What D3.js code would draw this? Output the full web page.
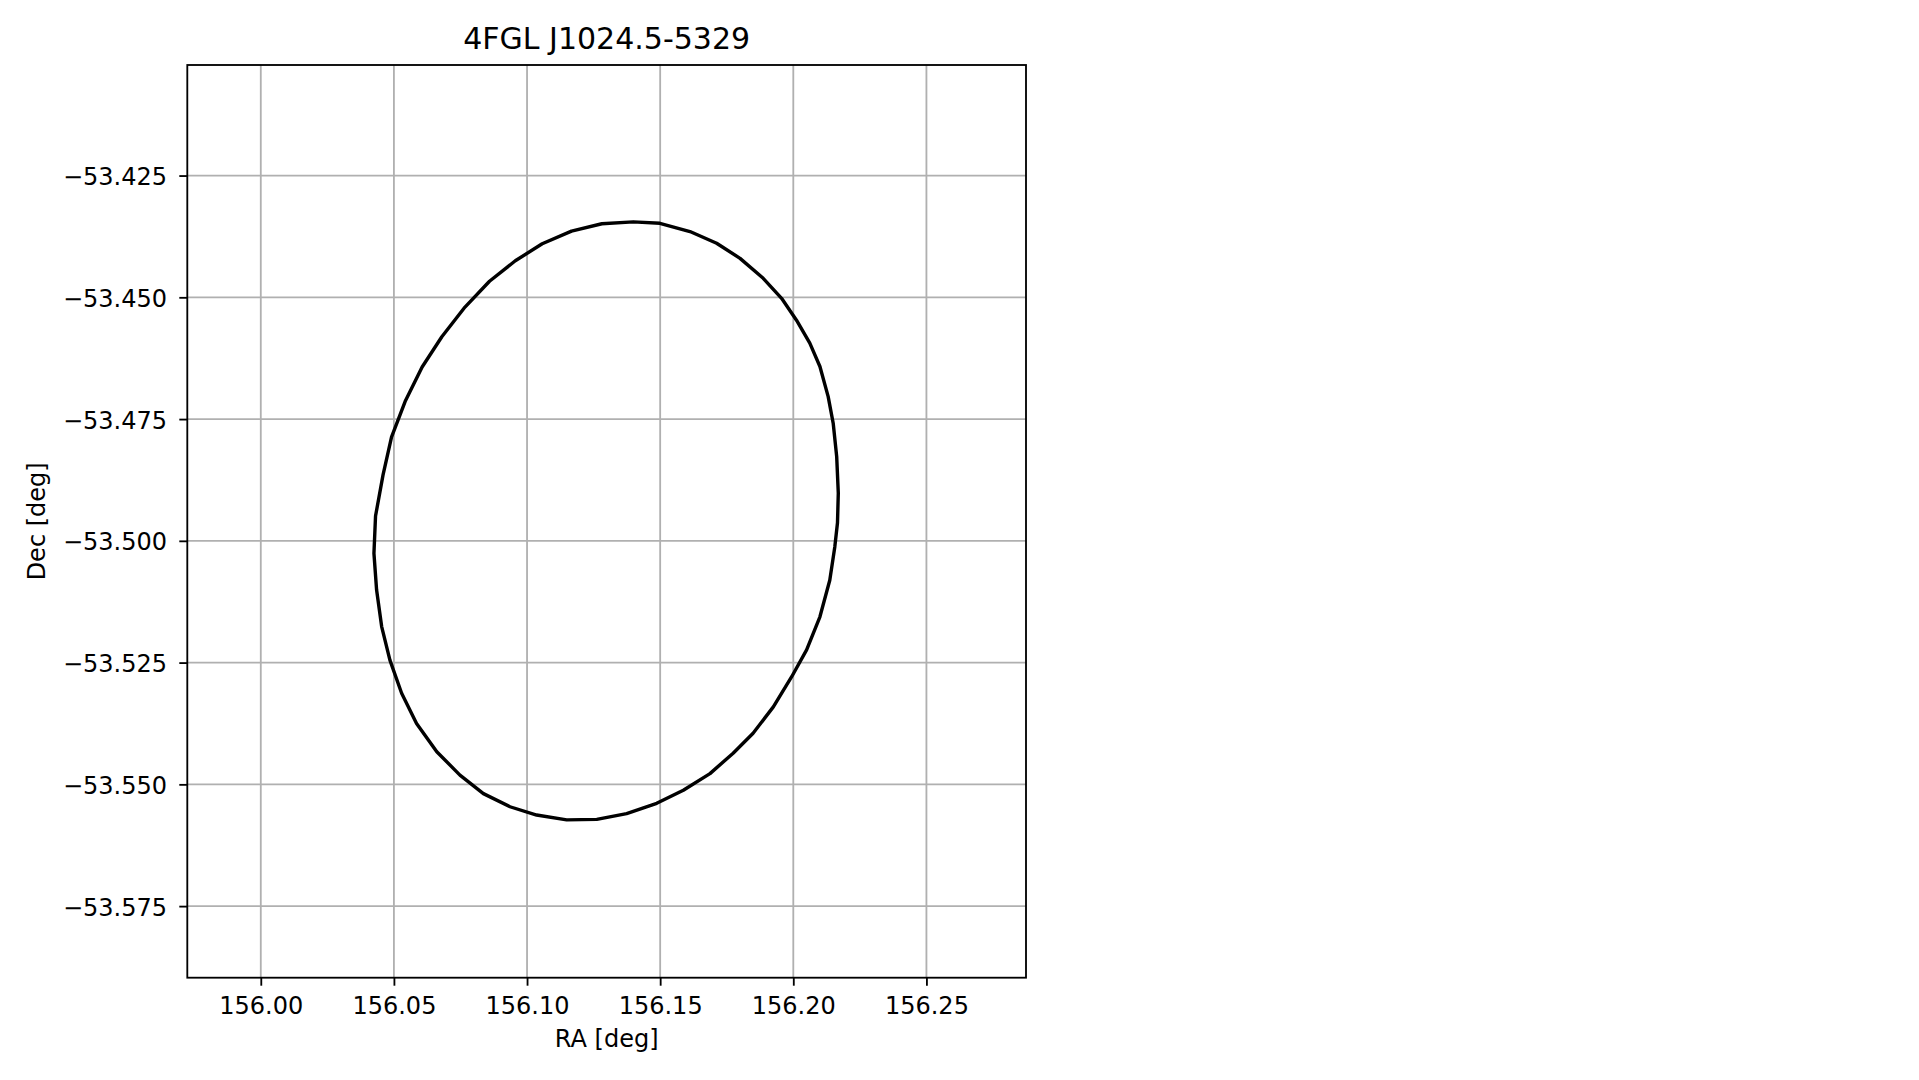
<!DOCTYPE html>
<html>
<head>
<meta charset="utf-8">
<script src="https://cdn.jsdelivr.net/npm/d3@7"></script>
<style>
html,body{margin:0;padding:0;background:#fff;}
text{font-family:"DejaVu Sans",sans-serif;fill:#000;}
</style>
</head>
<body>
<svg id="chart" width="1919" height="1080"></svg>
<script>
const title = "4FGL J1024.5-5329";
const xLabel = "RA [deg]";
const yLabel = "Dec [deg]";
const xDomain = [155.9724, 156.2874];
const yDomain = [-53.5897, -53.4023];
const xTicks = [156.00, 156.05, 156.10, 156.15, 156.20, 156.25];
const xTickLabels = ["156.00", "156.05", "156.10", "156.15", "156.20", "156.25"];
const yTicks = [-53.575, -53.550, -53.525, -53.500, -53.475, -53.450, -53.425];
const yTickLabels = ["\u221253.575", "\u221253.550", "\u221253.525", "\u221253.500", "\u221253.475", "\u221253.450", "\u221253.425"];

// ellipse contour (RA, Dec)
const ellipseRA = [156.0425,156.0431,156.0459,156.0491,156.0542,156.0606,156.0680,156.0767,156.0859,
  156.0956,156.1057,156.1167,156.1281,156.1399,156.1499,156.1612,156.1712,156.1800,156.1887,
  156.1956,156.2012,156.2062,156.2100,156.2131,156.2150,156.2163,156.2169,156.2166,156.2156,
  156.2137,156.2100,156.2050,156.1994,156.1925,156.1849,156.1774,156.1687,156.1587,156.1487,
  156.1374,156.1262,156.1149,156.1036,156.0936,156.0836,156.0748,156.0661,156.0585,156.0529,
  156.0485,156.0454,156.0435,156.0425];
const ellipseDec = [-53.5026,-53.4949,-53.4865,-53.4787,-53.4714,-53.4643,-53.4581,-53.4520,-53.4467,
  -53.4425,-53.4390,-53.4364,-53.4349,-53.4345,-53.4348,-53.4365,-53.4389,-53.4420,-53.4461,
  -53.4502,-53.4547,-53.4594,-53.4642,-53.4704,-53.4759,-53.4827,-53.4902,-53.4963,-53.5012,
  -53.5081,-53.5156,-53.5224,-53.5279,-53.5341,-53.5395,-53.5436,-53.5478,-53.5512,-53.5539,
  -53.5560,-53.5572,-53.5573,-53.5563,-53.5546,-53.5519,-53.5481,-53.5433,-53.5375,-53.5313,
  -53.5245,-53.5176,-53.5101,-53.5026];

const L = 187.3, R = 1026, T = 65, B = 977.7;
const fs = 24;
const lw = 1.83;

const svg = d3.select("#chart");
const x = d3.scaleLinear().domain(xDomain).range([L, R]);
const y = d3.scaleLinear().domain(yDomain).range([B, T]);

// grid
const grid = svg.append("g");
grid.selectAll("line.gx").data(xTicks).enter().append("line")
  .attr("x1", d => x(d)).attr("x2", d => x(d)).attr("y1", T).attr("y2", B)
  .attr("stroke", "#b0b0b0").attr("stroke-width", lw);
grid.selectAll("line.gy").data(yTicks).enter().append("line")
  .attr("x1", L).attr("x2", R).attr("y1", d => y(d)).attr("y2", d => y(d))
  .attr("stroke", "#b0b0b0").attr("stroke-width", lw);

// ellipse
const pts = ellipseRA.map((r, i) => [r, ellipseDec[i]]);
const line = d3.line().x(d => x(d[0])).y(d => y(d[1]));
svg.append("path").datum(pts).attr("d", line)
  .attr("fill", "none").attr("stroke", "#000").attr("stroke-width", 3.4)
  .attr("stroke-linejoin", "round");

// axes
const xAxis = d3.axisBottom(x).tickValues(xTicks).tickFormat((d, i) => xTickLabels[i])
  .tickSizeInner(8).tickSizeOuter(0).tickPadding(8);
const gx = svg.append("g").attr("transform", `translate(0,${B})`).call(xAxis);
gx.select(".domain").remove();
gx.selectAll(".tick line").attr("stroke", "#000").attr("stroke-width", lw);
gx.selectAll(".tick text").attr("font-size", fs).attr("font-family", "DejaVu Sans")
  .attr("dy", null).attr("y", 1014 - B);

const yAxis = d3.axisLeft(y).tickValues(yTicks).tickFormat((d, i) => yTickLabels[i])
  .tickSizeInner(8).tickSizeOuter(0).tickPadding(8);
const gy = svg.append("g").attr("transform", `translate(${L},0)`).call(yAxis);
gy.select(".domain").remove();
gy.selectAll(".tick line").attr("stroke", "#000").attr("stroke-width", lw);
gy.selectAll(".tick text").attr("font-size", fs).attr("font-family", "DejaVu Sans")
  .attr("dy", null).attr("y", 9).attr("x", -20.3);

// spines
svg.append("rect").attr("x", L).attr("y", T).attr("width", R - L).attr("height", B - T)
  .attr("fill", "none").attr("stroke", "#000").attr("stroke-width", lw);

// labels
svg.append("text").attr("x", (L + R) / 2).attr("y", 49).attr("text-anchor", "middle")
  .attr("font-size", 30).text(title);
svg.append("text").attr("x", (L + R) / 2).attr("y", 1047).attr("text-anchor", "middle")
  .attr("font-size", fs).text(xLabel);
svg.append("text").attr("transform", `translate(45,${(T + B) / 2}) rotate(-90)`)
  .attr("text-anchor", "middle").attr("font-size", fs).text(yLabel);
</script>
</body>
</html>
